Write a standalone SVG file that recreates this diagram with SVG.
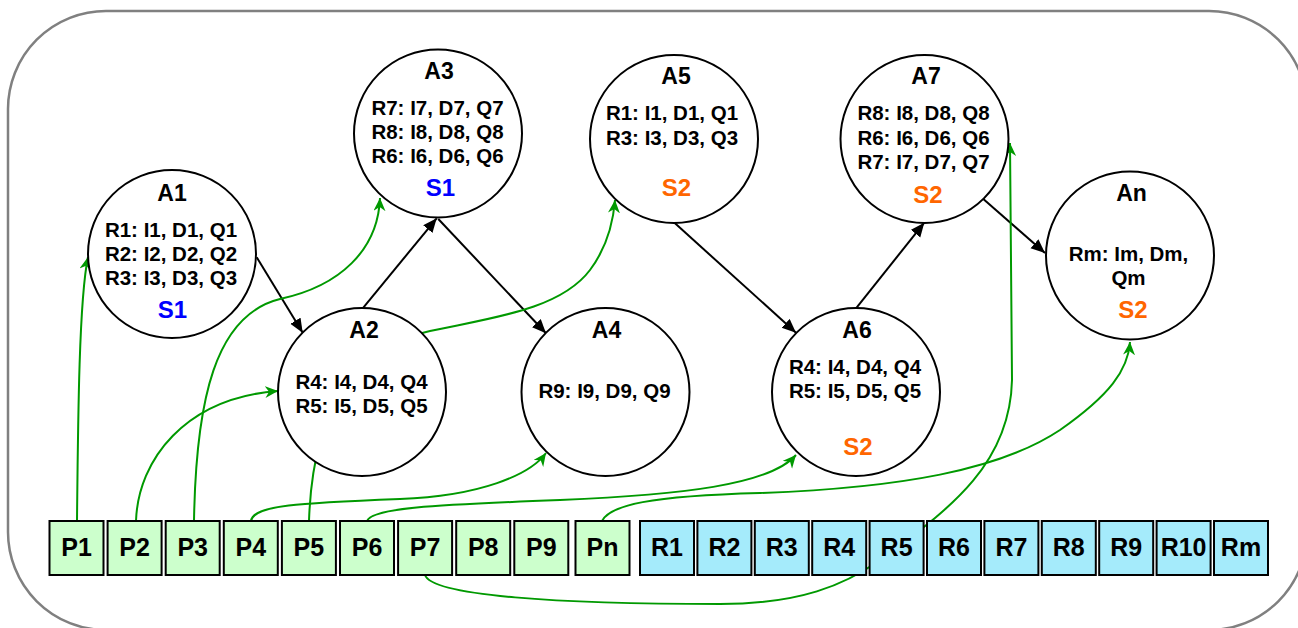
<svg xmlns="http://www.w3.org/2000/svg" width="1298" height="628" viewBox="0 0 1298 628">
<defs>
<style>
.frame{fill:#fff;stroke:#808080;stroke-width:2.5}
.node circle{fill:#fff;stroke:#000;stroke-width:2}
.t{font-family:"Liberation Sans",Arial,sans-serif;font-weight:bold;text-anchor:middle;fill:#000}
.title{font-size:23px}
.body{font-size:20.5px}
.s1{font-size:24px;fill:#0000ff}
.s2{font-size:24px;fill:#ff6600}
.box rect{stroke:#000;stroke-width:2}
.p rect{fill:#ccffcc}
.r rect{fill:#a5ebfb}
.bl{font-size:25px}
.blk{fill:none;stroke:#000;stroke-width:2;marker-end:url(#ab)}
.grn{fill:none;stroke:#009900;stroke-width:2;marker-end:url(#ag)}
</style>
<marker id="ab" markerUnits="userSpaceOnUse" markerWidth="15" markerHeight="13" refX="14" refY="6" orient="auto"><path d="M0,0 L14,6 L0,12 z" fill="#000"/></marker>
<marker id="ag" markerUnits="userSpaceOnUse" markerWidth="14" markerHeight="13" refX="13" refY="6" orient="auto"><path d="M0,0 L13,6 L0,12 L4,6 z" fill="#009900"/></marker>
</defs>
<rect class="frame" x="8" y="11" width="1299" height="619" rx="98"/>
<g id="connectors">
<line class="blk" x1="256.7" y1="257.3" x2="302.7" y2="332.7"/>
<line class="blk" x1="362.7" y1="308.3" x2="436.7" y2="218.3"/>
<line class="blk" x1="438.3" y1="219" x2="546" y2="333.3"/>
<line class="blk" x1="675" y1="223.3" x2="796" y2="332.7"/>
<line class="blk" x1="856" y1="308.3" x2="924.3" y2="222.7"/>
<line class="blk" x1="983.3" y1="199" x2="1045" y2="253"/>
<path class="grn" d="M77,521 C78,420 79,300 88,257"/>
<path class="grn" d="M136,521 C138,460 185,398 278,391"/>
<path class="grn" d="M194,521 C196,400 215,315 280,299 C340,286 378,250 380,198"/>
<path class="grn" d="M251,521 C253,505 300,503 400,499 C480,496 530,475 546,453"/>
<path class="grn" d="M309,521 C312,430 340,350 430,331 C490,318 560,310 590,270 C605,250 613,225 615,200"/>
<path class="grn" d="M367,521 C372,508 430,505 560,500 C680,495 770,485 796,455"/>
<path class="grn" d="M425,575 C432,596 560,604 720,604 C800,604 845,585 880,560 C940,515 1010,470 1012,380 L1010,143"/>
<path class="grn" d="M602,521 C610,505 650,496 760,493 C900,488 1000,470 1060,430 C1110,395 1128,370 1130,342"/>
</g>
<g id="A1" class="node"><circle cx="172" cy="254" r="84"/>
<text class="t title" x="172" y="201">A1</text>
<text class="t body" x="171" y="237">R1: I1, D1, Q1</text>
<text class="t body" x="171" y="261">R2: I2, D2, Q2</text>
<text class="t body" x="171" y="284.5">R3: I3, D3, Q3</text>
<text class="t s1" x="172.5" y="318">S1</text></g>
<g id="A2" class="node"><circle cx="362" cy="392" r="84"/>
<text class="t title" x="364" y="337.5">A2</text>
<text class="t body" x="361.5" y="388.5">R4: I4, D4, Q4</text>
<text class="t body" x="361.5" y="412.5">R5: I5, D5, Q5</text></g>
<g id="A3" class="node"><circle cx="438" cy="133.5" r="84"/>
<text class="t title" x="439" y="78.5">A3</text>
<text class="t body" x="437.5" y="115">R7: I7, D7, Q7</text>
<text class="t body" x="437.5" y="139">R8: I8, D8, Q8</text>
<text class="t body" x="437.5" y="163">R6: I6, D6, Q6</text>
<text class="t s1" x="440.5" y="195.5">S1</text></g>
<g id="A4" class="node"><circle cx="605.5" cy="392" r="84"/>
<text class="t title" x="606.5" y="337.5">A4</text>
<text class="t body" x="604.5" y="398">R9: I9, D9, Q9</text></g>
<g id="A5" class="node"><circle cx="674" cy="139" r="84"/>
<text class="t title" x="676" y="83.5">A5</text>
<text class="t body" x="672" y="120">R1: I1, D1, Q1</text>
<text class="t body" x="672" y="145">R3: I3, D3, Q3</text>
<text class="t s2" x="676.5" y="195.5">S2</text></g>
<g id="A6" class="node"><circle cx="856" cy="392" r="84"/>
<text class="t title" x="857" y="337.5">A6</text>
<text class="t body" x="855" y="374">R4: I4, D4, Q4</text>
<text class="t body" x="855" y="398">R5: I5, D5, Q5</text>
<text class="t s2" x="858" y="454.5">S2</text></g>
<g id="A7" class="node"><circle cx="924.5" cy="139" r="84"/>
<text class="t title" x="926" y="83.5">A7</text>
<text class="t body" x="923.5" y="120">R8: I8, D8, Q8</text>
<text class="t body" x="923.5" y="145">R6: I6, D6, Q6</text>
<text class="t body" x="923.5" y="168.5">R7: I7, D7, Q7</text>
<text class="t s2" x="928" y="203">S2</text></g>
<g id="An" class="node"><circle cx="1130" cy="255.5" r="84"/>
<text class="t title" x="1131.5" y="200.7">An</text>
<text class="t body" x="1128.5" y="261">Rm: Im, Dm,</text>
<text class="t body" x="1128.5" y="285">Qm</text>
<text class="t s2" x="1133" y="317.5">S2</text></g>
<g id="P1" class="box p"><rect x="49.5" y="521" width="54" height="54"/><text class="t bl" x="76.5" y="556">P1</text></g>
<g id="P2" class="box p"><rect x="107.6" y="521" width="54" height="54"/><text class="t bl" x="134.6" y="556">P2</text></g>
<g id="P3" class="box p"><rect x="165.7" y="521" width="54" height="54"/><text class="t bl" x="192.7" y="556">P3</text></g>
<g id="P4" class="box p"><rect x="223.8" y="521" width="54" height="54"/><text class="t bl" x="250.8" y="556">P4</text></g>
<g id="P5" class="box p"><rect x="281.9" y="521" width="54" height="54"/><text class="t bl" x="308.9" y="556">P5</text></g>
<g id="P6" class="box p"><rect x="340" y="521" width="54" height="54"/><text class="t bl" x="367" y="556">P6</text></g>
<g id="P7" class="box p"><rect x="398.1" y="521" width="54" height="54"/><text class="t bl" x="425.1" y="556">P7</text></g>
<g id="P8" class="box p"><rect x="456.2" y="521" width="54" height="54"/><text class="t bl" x="483.2" y="556">P8</text></g>
<g id="P9" class="box p"><rect x="514.3" y="521" width="54" height="54"/><text class="t bl" x="541.3" y="556">P9</text></g>
<g id="Pn" class="box p"><rect x="575.5" y="521" width="54" height="54"/><text class="t bl" x="602.5" y="556">Pn</text></g>
<g id="R1" class="box r"><rect x="640" y="521" width="54" height="54"/><text class="t bl" x="667" y="556">R1</text></g>
<g id="R2" class="box r"><rect x="697.4" y="521" width="54" height="54"/><text class="t bl" x="724.4" y="556">R2</text></g>
<g id="R3" class="box r"><rect x="754.8" y="521" width="54" height="54"/><text class="t bl" x="781.8" y="556">R3</text></g>
<g id="R4" class="box r"><rect x="812.2" y="521" width="54" height="54"/><text class="t bl" x="839.2" y="556">R4</text></g>
<g id="R5" class="box r"><rect x="869.6" y="521" width="54" height="54"/><text class="t bl" x="896.6" y="556">R5</text></g>
<g id="R6" class="box r"><rect x="927" y="521" width="54" height="54"/><text class="t bl" x="954" y="556">R6</text></g>
<g id="R7" class="box r"><rect x="984.4" y="521" width="54" height="54"/><text class="t bl" x="1011.4" y="556">R7</text></g>
<g id="R8" class="box r"><rect x="1041.8" y="521" width="54" height="54"/><text class="t bl" x="1068.8" y="556">R8</text></g>
<g id="R9" class="box r"><rect x="1099.2" y="521" width="54" height="54"/><text class="t bl" x="1126.2" y="556">R9</text></g>
<g id="R10" class="box r"><rect x="1156.6" y="521" width="54" height="54"/><text class="t bl" x="1183.6" y="556">R10</text></g>
<g id="Rm" class="box r"><rect x="1214" y="521" width="54" height="54"/><text class="t bl" x="1241" y="556">Rm</text></g>
</svg>
